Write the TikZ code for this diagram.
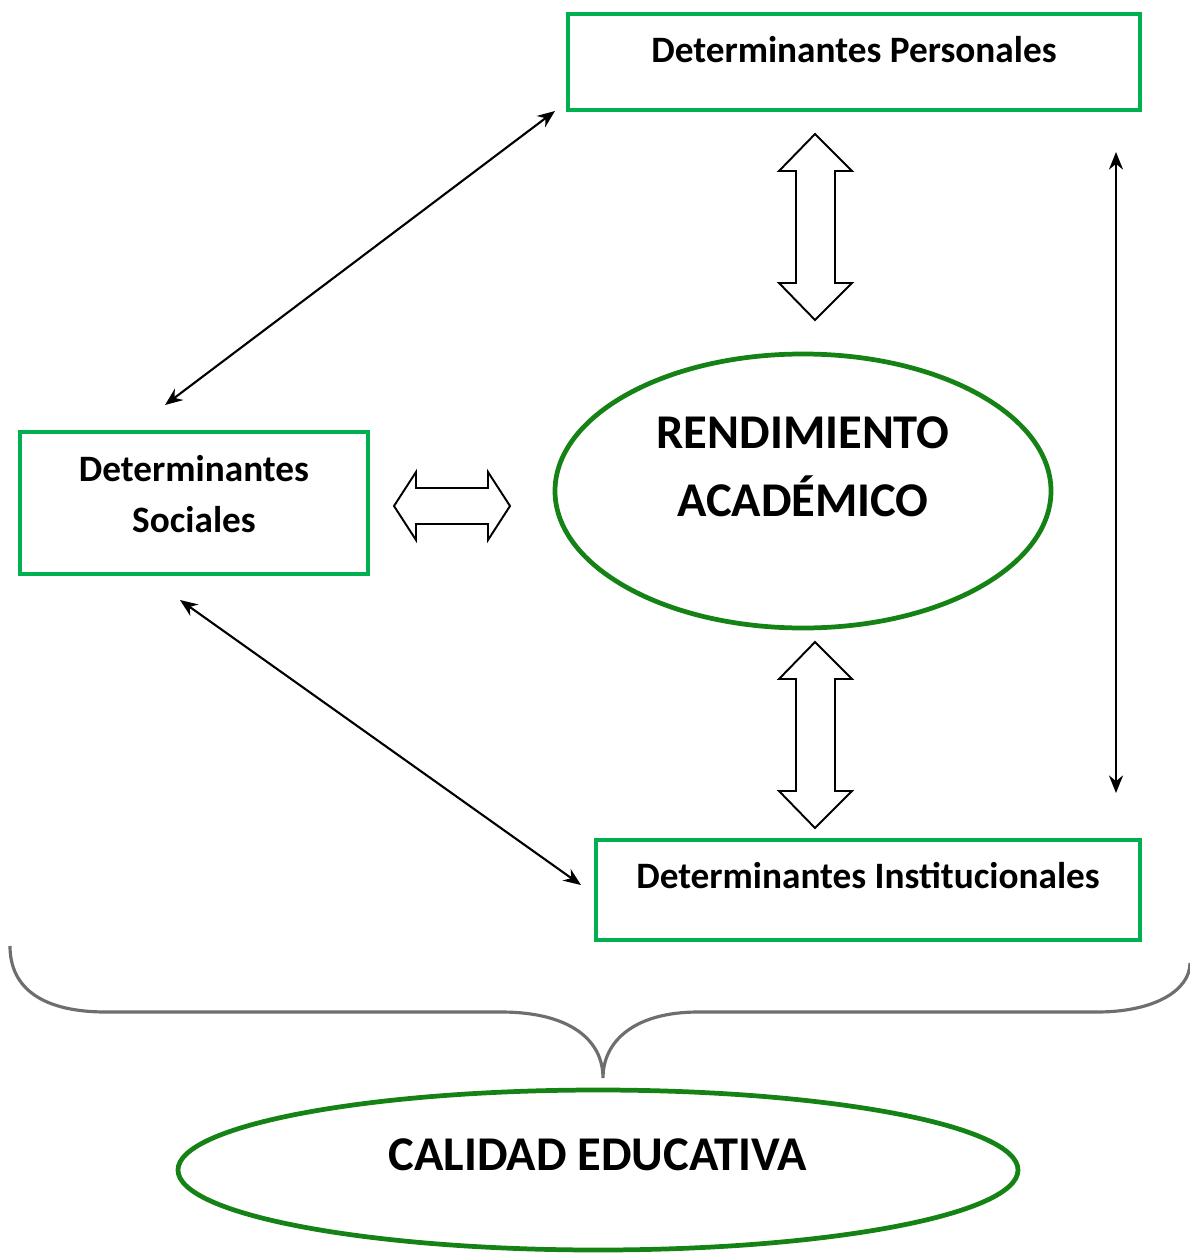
\documentclass[tikz,border=0pt]{standalone}
\usepackage{fontspec}
\setmainfont{Carlito}
\usetikzlibrary{arrows.meta, shapes.geometric}
\definecolor{boxgreen}{RGB}{0,176,80}
\definecolor{ovalgreen}{RGB}{20,130,20}
\definecolor{bracegray}{RGB}{110,110,110}

\begin{document}
\begin{tikzpicture}[x=0.2mm, y=-0.2mm,
    detbox/.style={draw=boxgreen, line width=2pt, inner sep=0pt},
    oval/.style={ellipse, draw=ovalgreen, line width=2.7pt, inner sep=0pt},
    lbl/.style={font=\bfseries\fontsize{21.2}{29.5}\selectfont, align=center},
    biglbl/.style={font=\bfseries\fontsize{27.6}{38.5}\selectfont, align=center},
    link/.style={line width=1.2pt, {Stealth[length=10pt,width=8pt]}-{Stealth[length=10pt,width=8pt]}},
    block/.style={draw, line width=1.1pt, fill=white, line join=miter}]
    \useasboundingbox (0,0) rectangle (1190,1253);

    % cajas de determinantes
    \node[detbox, minimum width=114.4mm, minimum height=19.2mm] (per) at (854,62) {};
    \node[lbl] (perT) at (854,50) {Determinantes Personales};
    \node[detbox, minimum width=69.6mm, minimum height=28.4mm] (soc) at (194,503) {};
    \node[lbl] (socT) at (194,494) {Determinantes\\Sociales};
    \node[detbox, minimum width=108.8mm, minimum height=20mm] (ins) at (868,890) {};
    \node[lbl] (insT) at (868,876) {Determinantes Institucionales};

    % elipses
    \node[oval, minimum width=99.2mm, minimum height=54.8mm] (ren) at (803,491) {};
    \node[biglbl] (renT) at (803,467) {RENDIMIENTO\\ACADÉMICO};
    \node[oval, minimum width=168mm, minimum height=32mm] (cal) at (598,1170) {};
    \node[biglbl] (calT) at (598,1155) {CALIDAD EDUCATIVA};

    % flechas finas
    \coordinate (perL) at (555,111);
    \coordinate (socU) at (165,405);
    \coordinate (socD) at (180,600);
    \coordinate (insL) at (581,885);
    \coordinate (rtU) at (1116,152);
    \coordinate (rtD) at (1116,793);
    \draw[link] (perL) -- (socU);
    \draw[link] (socD) -- (insL);
    \draw[link] (rtU) -- (rtD);

    % flechas de bloque
    \draw[block] (815,134) -- (852,171) -- (835,171) -- (835,283) -- (852,283)
        -- (815,320) -- (779,283) -- (796,283) -- (796,171) -- (779,171) -- cycle;
    \draw[block] (815,642) -- (852,679) -- (835,679) -- (835,791) -- (852,791)
        -- (815,828) -- (779,791) -- (796,791) -- (796,679) -- (779,679) -- cycle;
    \draw[block] (394,506) -- (416,472) -- (416,488) -- (488,488) -- (488,472)
        -- (510,506) -- (488,540) -- (488,524) -- (416,524) -- (416,540) -- cycle;

    % llave
    \draw[bracegray, line width=1.8pt] (10,946) .. controls (10,990) and (45,1012) .. (106,1012)
        -- (501,1012) .. controls (570,1012) and (603,1040) .. (603,1078)
        .. controls (603,1040) and (636,1012) .. (698,1012)
        -- (1097,1012) .. controls (1155,1012) and (1190,990) .. (1190,963);
\end{tikzpicture}
\end{document}
